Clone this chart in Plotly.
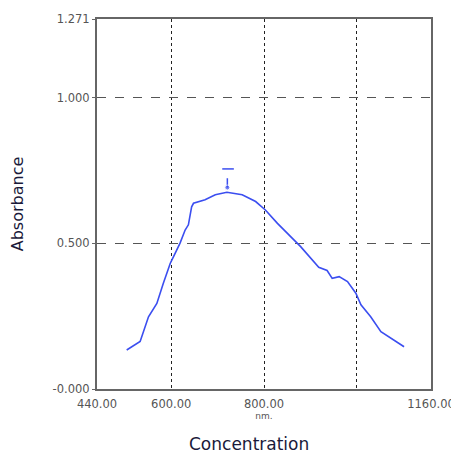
import plotly.graph_objects as go

# Spectrum
wavelength = [504, 533, 551, 569, 583, 598, 605, 619, 630, 637, 644, 648, 673, 695, 720, 753, 782,
              803, 829, 854, 879, 918, 936, 947, 962, 980, 998, 1009, 1030, 1052, 1081, 1102]
absorbance = [0.134, 0.163, 0.248, 0.294, 0.363, 0.432, 0.455, 0.501, 0.546, 0.564, 0.626, 0.638, 0.650, 0.667, 0.676, 0.667, 0.644,
              0.615, 0.569, 0.529, 0.489, 0.418, 0.407, 0.380, 0.386, 0.369, 0.329, 0.289, 0.248, 0.197, 0.168, 0.145]

# Peak marker
peak_x = 721
peak_marker_y = [0.724, 0.692]
peak_bar_x = [710, 735]
peak_bar_y = 0.756

x_tickvals = [440, 600, 800, 1000, 1160]
x_ticktext = ["440.00", "600.00", "800.00", "", "1160.00"]
y_tickvals = [0, 0.5, 1.0, 1.271]
y_ticktext = ["-0.000", "0.500", "1.000", "1.271"]

blue = "#3b4ef0"

fig = go.Figure()
fig.add_trace(go.Scatter(x=wavelength, y=absorbance, mode="lines",
                         line=dict(color=blue, width=1.6), hoverinfo="skip"))
fig.add_trace(go.Scatter(x=[peak_x, peak_x], y=peak_marker_y, mode="lines+markers",
                         line=dict(color=blue, width=1.5),
                         marker=dict(size=[0, 5], color=blue), hoverinfo="skip"))
fig.add_trace(go.Scatter(x=peak_bar_x, y=[peak_bar_y, peak_bar_y], mode="lines",
                         line=dict(color=blue, width=1.5), hoverinfo="skip"))

tick_font = dict(family="DejaVu Sans", size=11.5, color="#555555")
title_color = "#1a1a3a"

# page body has an 8px margin, so the figure is sized 8px smaller and margins shifted
fig.update_layout(
    width=451, height=448,
    margin=dict(l=89, r=28, t=11, b=67),
    paper_bgcolor="white", plot_bgcolor="white",
    showlegend=False,
    xaxis=dict(range=[440, 1160], tickvals=x_tickvals, ticktext=x_ticktext,
               showgrid=True, gridcolor="#222222", griddash="dot", gridwidth=1.3,
               showline=True, linecolor="#666666", linewidth=2, mirror=True,
               ticks="", tickfont=tick_font, zeroline=False, automargin=False,
               ticklabelstandoff=3, ticklabeloverflow="allow",
               title=dict(text="nm.", font=dict(family="DejaVu Sans", size=9, color="#555555"),
                          standoff=0)),
    yaxis=dict(range=[0, 1.271], tickvals=y_tickvals, ticktext=y_ticktext,
               showgrid=True, gridcolor="#555555", griddash="dash", gridwidth=1.2,
               showline=True, linecolor="#666666", linewidth=2, mirror=True,
               ticks="outside", ticklen=3, tickcolor="#666666",
               tickfont=tick_font, zeroline=False, automargin=False,
               ticklabeloverflow="allow",
               title=dict(text="Absorbance", font=dict(family="DejaVu Sans", size=16, color=title_color),
                          standoff=30)),
    annotations=[dict(text="Concentration", xref="paper", yref="paper",
                      x=0.455, y=-0.15, xanchor="center", yanchor="middle",
                      showarrow=False,
                      font=dict(family="DejaVu Sans", size=17, color=title_color))],
)

fig.write_html("out.html")
